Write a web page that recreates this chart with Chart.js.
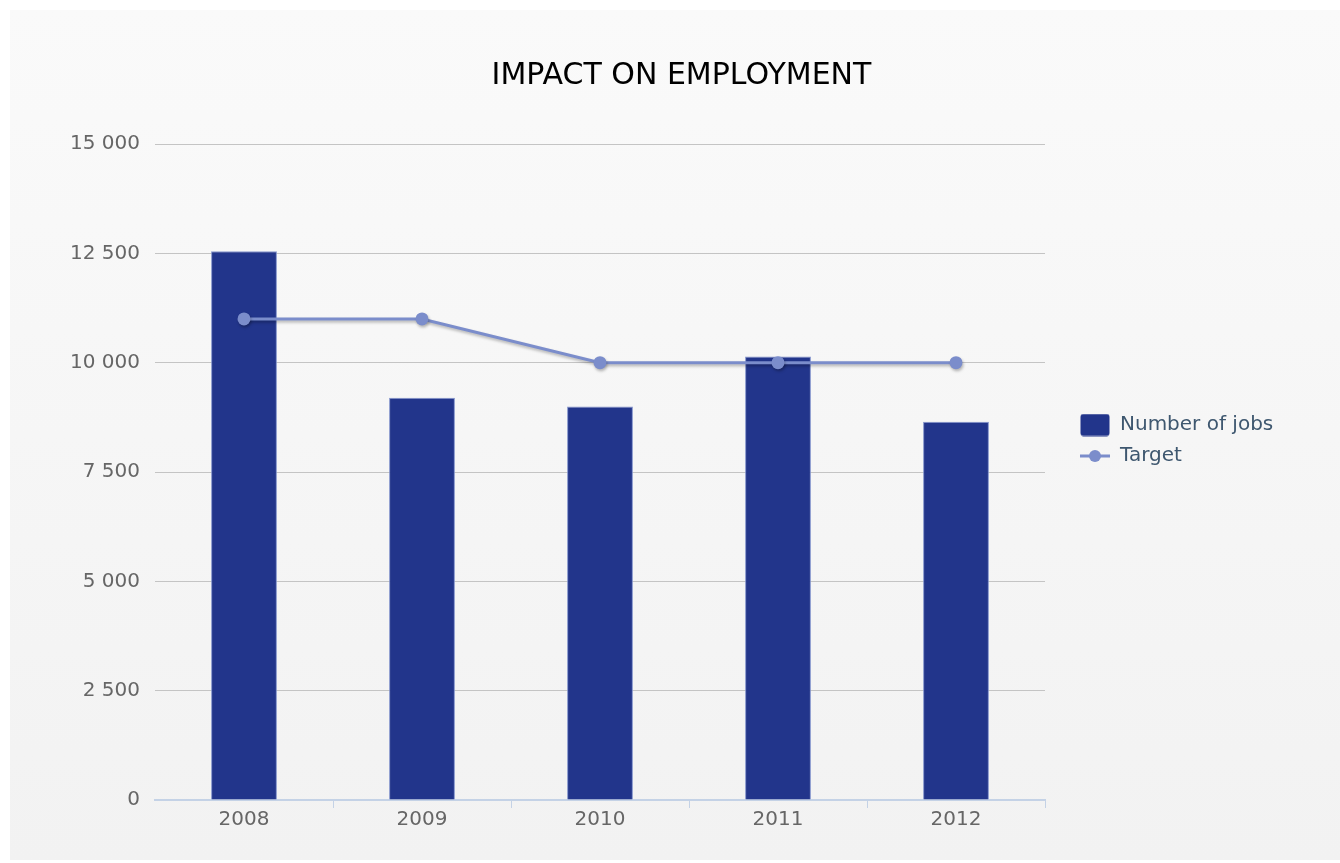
<!DOCTYPE html>
<html>
<head>
<meta charset="utf-8">
<title>Impact on employment</title>
<script src="https://cdn.jsdelivr.net/npm/chart.js@4.4.1/dist/chart.umd.min.js"></script>
<style>
  html, body { margin: 0; padding: 0; background: #ffffff; }
  #panel {
    position: absolute; left: 10px; top: 10px; width: 1330px; height: 850px;
    background: linear-gradient(to bottom, #fafafa 0%, #f2f2f2 100%);
  }
  #chart { position: absolute; left: 0; top: 0; }
</style>
</head>
<body>
<div id="panel"></div>
<canvas id="chart" width="1340" height="863"></canvas>
<script>
// Yearly figures
const years = ['2008', '2009', '2010', '2011', '2012'];
const jobs = [12550, 9200, 9000, 10140, 8650];
const target = [11000, 11000, 10000, 10000, 10000];
const yTicks = [0, 2500, 5000, 7500, 10000, 12500, 15000];

const NAVY = '#22358b';
const PERIWINKLE = '#7b8dcb';
const LEGEND_WIDTH = 295;
const LEGEND_SHIFT = 24;

// thousands separated by a space: 12 500
function spaced(v) {
  return String(v).replace(/\B(?=(\d{3})+(?!\d))/g, ' ');
}

// small legend symbols
function barSwatch() {
  const c = document.createElement('canvas');
  c.width = 30; c.height = 23;
  const g = c.getContext('2d');
  g.fillStyle = NAVY;
  g.beginPath();
  g.roundRect(0.5, 0.5, 29, 22, 3);
  g.fill();
  return c;
}
function lineSwatch() {
  const c = document.createElement('canvas');
  c.width = 30; c.height = 14;
  const g = c.getContext('2d');
  g.strokeStyle = PERIWINKLE;
  g.lineWidth = 3;
  g.beginPath(); g.moveTo(0, 7); g.lineTo(30, 7); g.stroke();
  g.fillStyle = PERIWINKLE;
  g.beginPath(); g.arc(15, 7, 6, 0, Math.PI * 2); g.fill();
  return c;
}
const swatches = [barSwatch(), lineSwatch()];

// fixed-width legend column, items set in from the plot edge
const legendColumn = {
  id: 'legendColumn',
  beforeLayout(chart) {
    const lg = chart.legend;
    if (lg && !lg._fixedFit) {
      const fit = lg.fit;
      lg.fit = function () {
        fit.apply(this, arguments);
        if (!this.isHorizontal()) this.width = LEGEND_WIDTH;
      };
      lg._fixedFit = true;
    }
  },
  afterLayout(chart) {
    const lg = chart.legend;
    if (lg) { lg.left += LEGEND_SHIFT; lg.right += LEGEND_SHIFT; }
  }
};

// soft drop shadow under the target line
const lineShadow = {
  id: 'lineShadow',
  beforeDatasetDraw(chart, args) {
    if (chart.data.datasets[args.index].type !== 'line') return;
    const ctx = chart.ctx;
    ctx.save();
    ctx.shadowColor = 'rgba(0,0,0,0.28)';
    ctx.shadowBlur = 3;
    ctx.shadowOffsetX = 1;
    ctx.shadowOffsetY = 2;
  },
  afterDatasetDraw(chart, args) {
    if (chart.data.datasets[args.index].type !== 'line') return;
    chart.ctx.restore();
  }
};

Chart.defaults.font.family = "'DejaVu Sans', sans-serif";

new Chart(document.getElementById('chart'), {
  data: {
    labels: years,
    datasets: [
      {
        type: 'bar',
        label: 'Number of jobs',
        data: jobs,
        backgroundColor: NAVY,
        borderColor: 'rgba(120,138,200,0.9)',
        borderWidth: 1,
        barPercentage: 0.37,
        categoryPercentage: 1,
        order: 1
      },
      {
        type: 'line',
        label: 'Target',
        data: target,
        borderColor: PERIWINKLE,
        backgroundColor: PERIWINKLE,
        borderWidth: 3,
        pointRadius: 6.5,
        pointHoverRadius: 6.5,
        pointBorderWidth: 0,
        pointBackgroundColor: PERIWINKLE,
        tension: 0,
        fill: false,
        order: 0
      }
    ]
  },
  options: {
    responsive: false,
    devicePixelRatio: 1,
    animation: false,
    layout: { padding: { left: 23, right: 0, top: 20, bottom: 2 } },
    plugins: {
      title: {
        display: true,
        text: 'IMPACT ON EMPLOYMENT',
        color: '#000000',
        font: { size: 30, weight: 'normal' },
        padding: { top: 38, bottom: 50 }
      },
      legend: {
        position: 'right',
        align: 'center',
        labels: {
          color: '#3e576f',
          font: { size: 20 },
          padding: 11,
          usePointStyle: true,
          pointStyleWidth: 30,
          boxHeight: 20,
          sort: (a, b) => a.datasetIndex - b.datasetIndex,
          generateLabels(chart) {
            const items = Chart.defaults.plugins.legend.labels.generateLabels(chart);
            items.forEach((it) => { it.pointStyle = swatches[it.datasetIndex]; });
            return items;
          }
        }
      },
      tooltip: { enabled: false }
    },
    scales: {
      x: {
        offset: true,
        grid: {
          drawOnChartArea: false,
          drawTicks: true,
          tickLength: 8,
          color: (c) => (c.index === 0 ? 'rgba(0,0,0,0)' : '#c4d2e6')
        },
        border: { display: true, color: '#c4d2e6', width: 2 },
        ticks: { color: '#666666', font: { size: 20 }, padding: 0 },
        afterFit(scale) { scale.height = 61; }
      },
      y: {
        min: 0,
        max: 15000,
        afterBuildTicks(scale) { scale.ticks = yTicks.map(v => ({ value: v })); },
        grid: {
          drawTicks: false,
          color: (c) => (c.tick && c.tick.value === 0 ? 'rgba(0,0,0,0)' : '#c4c4c4'),
          lineWidth: 1
        },
        border: { display: false },
        ticks: {
          color: '#666666',
          font: { size: 20 },
          padding: 15,
          callback: (v) => spaced(v)
        },
        afterFit(scale) { scale.width = 132; }
      }
    }
  },
  plugins: [legendColumn, lineShadow]
});
</script>
</body>
</html>
